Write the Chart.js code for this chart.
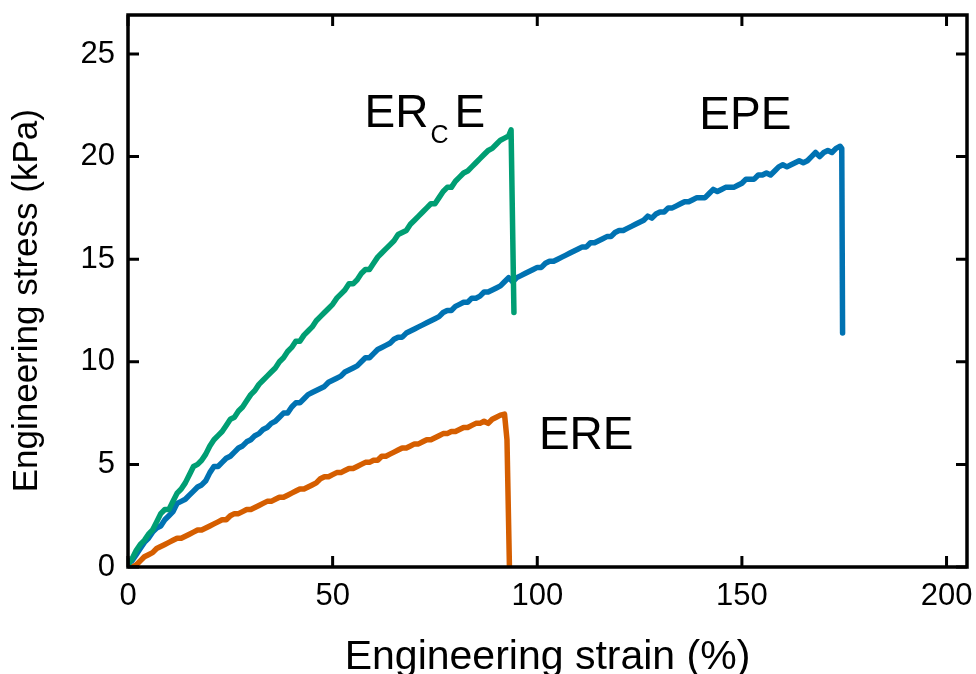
<!DOCTYPE html>
<html>
<head>
<meta charset="utf-8">
<script src="https://cdn.jsdelivr.net/npm/chart.js@4.4.1/dist/chart.umd.min.js"></script>
<style>
  html, body { margin: 0; padding: 0; background: #ffffff; }
</style>
</head>
<body>
<canvas id="chart" width="976" height="674"></canvas>
<script>
// Engineering strain (%) and stress (kPa)
const ercStrain = [0,1,2,3,4,5,6,7,8,9,10,11,12,13,14,15,16,17,18,19,20,21,22,23,24,25,26,27,28,29,30,31,32,33,34,35,36,37,38,39,40,41,42,43,44,45,46,47,48,49,50,51,52,53,54,55,56,57,58,59,60,61,62,63,64,65,66,67,68,69,70,71,72,73,74,75,76,77,78,79,80,81,82,83,84,85,86,87,88,89,90,91,92,93,93.6,94.3];
const ercStress = [0.1,0.4,0.8,1.1,1.3,1.6,1.8,2.2,2.6,2.8,2.8,3.2,3.6,3.8,4.1,4.5,4.9,5.0,5.2,5.5,5.9,6.2,6.4,6.6,6.9,7.2,7.3,7.6,7.8,8.1,8.4,8.6,8.9,9.1,9.3,9.5,9.7,10.0,10.2,10.5,10.7,11.0,11.0,11.3,11.5,11.7,12.0,12.2,12.4,12.6,12.8,13.1,13.3,13.5,13.8,13.8,14.0,14.3,14.5,14.5,14.8,15.1,15.3,15.5,15.7,15.9,16.2,16.3,16.4,16.7,16.9,17.1,17.3,17.5,17.7,17.7,18.0,18.3,18.5,18.5,18.8,19.0,19.2,19.3,19.5,19.7,19.9,20.1,20.3,20.4,20.6,20.8,20.9,21.0,21.3,12.4];

const epeStrain = [0,1,2,3,4,5,6,7,8,9,10,11,12,13,14,15,16,17,18,19,20,21,22,23,24,25,26,27,28,29,30,31,32,33,34,35,36,37,38,39,40,41,42,43,44,45,46,47,48,49,50,51,52,53,54,55,56,57,58,59,60,61,62,63,64,65,66,67,68,69,70,71,72,73,74,75,76,77,78,79,80,81,82,83,84,85,86,87,88,89,90,91,92,93,94,95,96,97,98,99,100,101,102,103,104,105,106,107,108,109,110,111,112,113,114,115,116,117,118,119,120,121,122,123,124,125,126,127,128,129,130,131,132,133,134,135,136,137,138,139,140,141,142,143,144,145,146,147,148,149,150,151,152,153,154,155,156,157,158,159,160,161,162,163,164,165,166,167,168,169,170,171,172,173,174,174.4,174.6];
const epeStress = [0.2,0.3,0.6,0.9,1.2,1.4,1.7,1.9,2.0,2.3,2.5,2.7,3.1,3.2,3.3,3.5,3.7,3.9,4.0,4.2,4.6,4.9,4.9,5.1,5.3,5.4,5.6,5.8,5.9,6.1,6.2,6.4,6.5,6.7,6.8,7.0,7.1,7.3,7.5,7.5,7.8,8.0,8.0,8.2,8.4,8.5,8.6,8.7,8.8,9.0,9.1,9.2,9.3,9.5,9.6,9.7,9.8,10.0,10.2,10.2,10.4,10.6,10.7,10.8,10.9,11.1,11.2,11.2,11.4,11.5,11.6,11.7,11.8,11.9,12.0,12.1,12.2,12.4,12.5,12.5,12.7,12.8,12.9,12.9,13.1,13.1,13.2,13.4,13.4,13.5,13.6,13.7,13.9,14.1,13.9,14.1,14.2,14.3,14.4,14.5,14.6,14.6,14.8,14.9,14.9,15.0,15.1,15.2,15.3,15.4,15.5,15.6,15.6,15.8,15.8,15.9,16.0,16.1,16.1,16.3,16.4,16.4,16.5,16.6,16.7,16.8,16.9,17.1,17.0,17.2,17.3,17.3,17.5,17.5,17.6,17.7,17.8,17.8,17.9,18.0,18.0,18.0,18.2,18.4,18.3,18.4,18.5,18.5,18.5,18.6,18.7,18.9,18.9,18.9,19.1,19.1,19.2,19.1,19.3,19.5,19.6,19.5,19.6,19.7,19.8,19.7,19.8,20.0,20.2,20.0,20.2,20.3,20.2,20.4,20.5,20.4,11.4];

const ereStrain = [0,1,2,3,4,5,6,7,8,9,10,11,12,13,14,15,16,17,18,19,20,21,22,23,24,25,26,27,28,29,30,31,32,33,34,35,36,37,38,39,40,41,42,43,44,45,46,47,48,49,50,51,52,53,54,55,56,57,58,59,60,61,62,63,64,65,66,67,68,69,70,71,72,73,74,75,76,77,78,79,80,81,82,83,84,85,86,87,88,89,90,91,92,92.6,93.2];
const ereStress = [0,0,0.1,0.3,0.5,0.6,0.7,0.9,1.0,1.1,1.2,1.3,1.4,1.4,1.5,1.6,1.7,1.8,1.8,1.9,2.0,2.1,2.2,2.3,2.3,2.5,2.6,2.6,2.7,2.8,2.8,2.9,3.0,3.1,3.2,3.2,3.3,3.4,3.4,3.5,3.6,3.7,3.8,3.8,3.9,4.0,4.1,4.3,4.4,4.4,4.5,4.6,4.6,4.7,4.8,4.8,4.9,5.0,5.1,5.1,5.2,5.2,5.4,5.4,5.5,5.6,5.7,5.8,5.8,5.9,6.0,6.0,6.1,6.2,6.2,6.3,6.4,6.5,6.5,6.6,6.6,6.7,6.8,6.8,6.9,7.0,7.0,7.1,7.0,7.2,7.3,7.4,7.45,6.2,0];

const xTicks = [0, 50, 100, 150, 200];
const yTicks = [0, 5, 10, 15, 20, 25];

const FONT = "'Liberation Sans', Arial, sans-serif";

const toPoints = (xs, ys) => xs.map((v, i) => ({ x: v, y: ys[i] }));

// Axis box with inward ticks on all four sides
const framePlugin = {
  id: "frame",
  afterDatasetsDraw(chart) {
    const { ctx, chartArea: a, scales: { x, y } } = chart;
    ctx.save();
    ctx.strokeStyle = "#000000";
    ctx.lineWidth = 3;
    ctx.beginPath();
    x.ticks.forEach((t) => {
      const px = x.getPixelForValue(t.value);
      ctx.moveTo(px, a.bottom);
      ctx.lineTo(px, a.bottom - 11);
      ctx.moveTo(px, a.top);
      ctx.lineTo(px, a.top + 11);
    });
    y.ticks.forEach((t) => {
      const py = y.getPixelForValue(t.value);
      ctx.moveTo(a.left, py);
      ctx.lineTo(a.left + 11, py);
      ctx.moveTo(a.right, py);
      ctx.lineTo(a.right - 11, py);
    });
    ctx.stroke();
    ctx.lineWidth = 3.5;
    ctx.strokeRect(a.left, a.top, a.right - a.left, a.bottom - a.top);
    ctx.restore();
  },
};

// Curve names written next to each curve
const namesPlugin = {
  id: "names",
  afterDatasetsDraw(chart) {
    const { ctx, scales: { x, y } } = chart;
    ctx.save();
    ctx.fillStyle = "#000000";
    ctx.textBaseline = "alphabetic";
    ctx.textAlign = "left";
    ctx.font = "46px " + FONT;

    let px = x.getPixelForValue(57.8);
    const py = y.getPixelForValue(21.44);
    ctx.fillText("ER", px, py);
    px += ctx.measureText("ER").width + 2;
    ctx.font = "25px " + FONT;
    ctx.fillText("C", px, py + 16);
    px += ctx.measureText("C").width + 6;
    ctx.font = "46px " + FONT;
    ctx.fillText("E", px, py);

    ctx.fillText("EPE", x.getPixelForValue(139.6), y.getPixelForValue(21.35));
    ctx.fillText("ERE", x.getPixelForValue(100.4), y.getPixelForValue(5.75));
    ctx.restore();
  },
};

const lineStyle = {
  borderWidth: 5.5,
  pointRadius: 0,
  tension: 0,
  borderJoinStyle: "round",
  borderCapStyle: "round",
  fill: false,
};

// invisible tick marks, only used to space the labels away from the axes
const hiddenGrid = (len) => ({
  display: true,
  drawOnChartArea: false,
  drawTicks: true,
  tickLength: len,
  color: "rgba(0,0,0,0)",
});

new Chart(document.getElementById("chart"), {
  type: "line",
  plugins: [namesPlugin, framePlugin],
  data: {
    datasets: [
      { label: "ERCE", data: toPoints(ercStrain, ercStress), borderColor: "#009E73", ...lineStyle },
      { label: "EPE", data: toPoints(epeStrain, epeStress), borderColor: "#0072B2", ...lineStyle },
      { label: "ERE", data: toPoints(ereStrain, ereStress), borderColor: "#D55E00", ...lineStyle },
    ],
  },
  options: {
    responsive: false,
    animation: false,
    parsing: false,
    layout: { padding: { left: 0, top: 15, right: 9, bottom: 0 } },
    plugins: { legend: { display: false }, tooltip: { enabled: false } },
    scales: {
      x: {
        type: "linear",
        min: 0,
        max: 205,
        afterFit: (s) => { s.height = 107; },
        afterBuildTicks: (s) => { s.ticks = xTicks.map((v) => ({ value: v })); },
        grid: hiddenGrid(11),
        border: { display: false },
        ticks: {
          includeBounds: false,
          padding: 0,
          color: "#000000",
          font: { family: FONT, size: 31, lineHeight: 1.2 },
        },
        title: {
          display: true,
          text: "Engineering strain (%)",
          color: "#000000",
          font: { family: FONT, size: 41, lineHeight: 0.8 },
          padding: { top: 0, bottom: 0 },
        },
      },
      y: {
        type: "linear",
        min: 0,
        max: 26.9,
        afterFit: (s) => { s.width = 128; },
        afterBuildTicks: (s) => { s.ticks = yTicks.map((v) => ({ value: v })); },
        grid: hiddenGrid(13),
        border: { display: false },
        ticks: {
          includeBounds: false,
          padding: 0,
          color: "#000000",
          font: { family: FONT, size: 31, lineHeight: 0.9 },
        },
        title: {
          display: true,
          // two trailing no-break spaces nudge the title a little below centre, as in the figure
          text: "Engineering stress (kPa)\u00A0\u00A0",
          color: "#000000",
          font: { family: FONT, size: 35, lineHeight: 1 },
          padding: { top: 9.5, bottom: 0 },
        },
      },
    },
  },
});
</script>
</body>
</html>
